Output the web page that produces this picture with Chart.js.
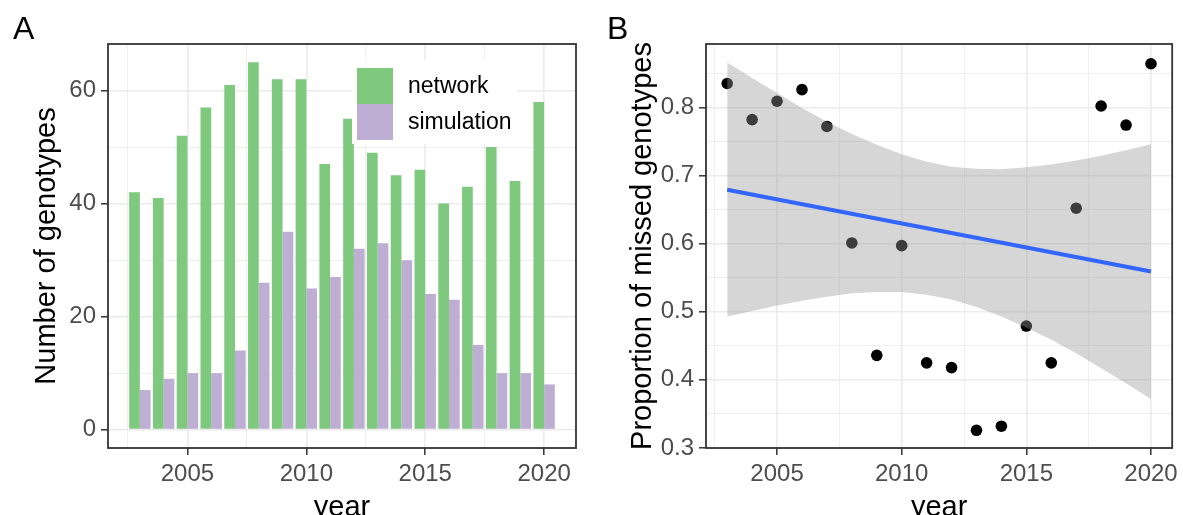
<!DOCTYPE html>
<html>
<head>
<meta charset="utf-8">
<title>Genotypes per year</title>
<script src="https://cdn.jsdelivr.net/npm/chart.js@4.4.1/dist/chart.umd.min.js"></script>
<style>
  html, body { margin: 0; padding: 0; background: #fff; overflow: hidden; }
  #wrap { position: relative; width: 1183px; height: 515px; }
  .panel { position: absolute; top: 0; height: 515px; }
  #panelA { left: 0; width: 592px; }
  #panelB { left: 592px; width: 591px; }
</style>
</head>
<body>
<div id="wrap">
  <div class="panel" id="panelA"><canvas id="chartA"></canvas></div>
  <div class="panel" id="panelB"><canvas id="chartB"></canvas></div>
</div>
<script>
// ------------------------
// data
// ------------------------
const years = [2003, 2004, 2005, 2006, 2007, 2008, 2009, 2010, 2011, 2012, 2013, 2014, 2015, 2016, 2017, 2018, 2019, 2020];
const networkCounts = [42, 41, 52, 57, 61, 65, 62, 62, 47, 55, 49, 45, 46, 40, 43, 50, 44, 58];
const simulationCounts = [7, 9, 10, 10, 14, 26, 35, 25, 27, 32, 33, 30, 24, 23, 15, 10, 10, 8];

const missedProportion = [0.835, 0.782, 0.809, 0.826, 0.772, 0.601, 0.436, 0.597, 0.425, 0.418, 0.326, 0.332, 0.479, 0.425, 0.652, 0.802, 0.774, 0.864];
// linear fit and its confidence band
const fitYears = [2003, 2020];
const fitValues = [0.679, 0.559];
const ciUpper = [0.866, 0.843, 0.821, 0.799, 0.779, 0.761, 0.745, 0.731, 0.720, 0.713, 0.710, 0.709, 0.712, 0.716, 0.722, 0.729, 0.737, 0.746];
const ciLower = [0.493, 0.501, 0.509, 0.516, 0.522, 0.527, 0.529, 0.529, 0.525, 0.518, 0.507, 0.493, 0.477, 0.459, 0.439, 0.417, 0.395, 0.372];

const yearTicks = [2005, 2010, 2015, 2020];
const yearMinorTicks = [2002.5, 2007.5, 2012.5, 2017.5];
const countTicks = [0, 20, 40, 60];
const countMinorTicks = [10, 30, 50];
const propTicks = [0.3, 0.4, 0.5, 0.6, 0.7, 0.8];
const propMinorTicks = [0.35, 0.45, 0.55, 0.65, 0.75, 0.85];

// ------------------------
// look & feel helpers
// ------------------------
const FONT = '"Liberation Sans", Arial, sans-serif';

function ggAxis(major, minor, fmt, extra) {
  const isMajor = v => major.some(m => Math.abs(m - v) < 1e-9);
  return Object.assign({
    offset: false,
    afterBuildTicks: s => {
      s.ticks = major.concat(minor).sort((a, b) => a - b).map(v => ({ value: v }));
    },
    grid: {
      offset: false,
      color: '#EBEBEB',
      lineWidth: c => (c.tick && isMajor(c.tick.value)) ? 1.6 : 0.8,
      tickColor: c => (c.tick && isMajor(c.tick.value)) ? '#333333' : 'rgba(0,0,0,0)',
      tickLength: 7,
      tickWidth: 1.5
    },
    border: { display: false },
    ticks: {
      autoSkip: false,
      maxRotation: 0,
      color: '#4D4D4D',
      padding: 5,
      font: { family: FONT, size: 24 },
      callback: v => isMajor(v) ? fmt(v) : ''
    }
  }, extra);
}

function axisTitle(text, pad) {
  return { display: true, text: text, color: '#000', font: { family: FONT, size: 29, lineHeight: 1 }, padding: pad };
}

// panel letter
const panelTag = {
  id: 'panelTag',
  afterDraw(chart, args, opts) {
    const ctx = chart.ctx;
    ctx.save();
    ctx.fillStyle = '#000';
    ctx.font = '32px ' + FONT;
    ctx.textBaseline = 'alphabetic';
    ctx.fillText(opts.text, opts.x, opts.y);
    ctx.restore();
  }
};

// ggplot style panel border
const panelBorder = {
  id: 'panelBorder',
  afterDraw(chart) {
    const a = chart.chartArea;
    const ctx = chart.ctx;
    ctx.save();
    ctx.strokeStyle = '#333333';
    ctx.lineWidth = 1.8;
    ctx.strokeRect(a.left, a.top, a.right - a.left, a.bottom - a.top);
    ctx.restore();
  }
};

// legend inside panel A
const insideLegend = {
  id: 'insideLegend',
  afterDatasetsDraw(chart) {
    const ctx = chart.ctx;
    ctx.save();
    ctx.fillStyle = '#fff';
    ctx.fillRect(352, 60, 165, 84);
    ctx.font = '23px ' + FONT;
    ctx.textBaseline = 'middle';
    chart.data.datasets.forEach((ds, i) => {
      ctx.fillStyle = ds.backgroundColor;
      ctx.fillRect(357, 68 + i * 36, 36, 36);
      ctx.fillStyle = '#000';
      ctx.fillText(ds.label, 408, 87 + i * 36);
    });
    ctx.restore();
  }
};

// ========================
// A: bars
// ========================
function renderBars() {
  const ctx = document.getElementById('chartA').getContext('2d');
  new Chart(ctx, {
    type: 'bar',
    data: {
      datasets: [
        {
          label: 'network',
          data: years.map((y, i) => ({ x: y, y: networkCounts[i] })),
          backgroundColor: '#7FC97F',
          borderWidth: 0,
          categoryPercentage: 0.9,
          barPercentage: 1.0
        },
        {
          label: 'simulation',
          data: years.map((y, i) => ({ x: y, y: simulationCounts[i] })),
          backgroundColor: '#BEAED4',
          borderWidth: 0,
          categoryPercentage: 0.9,
          barPercentage: 1.0
        }
      ]
    },
    options: {
      responsive: true,
      maintainAspectRatio: false,
      animation: false,
      layout: { padding: { left: 0, right: 16, top: 44, bottom: 0 } },
      plugins: {
        legend: { display: false },
        tooltip: { enabled: false },
        panelTag: { text: 'A', x: 13, y: 39 }
      },
      scales: {
        x: ggAxis(yearTicks, yearMinorTicks, v => String(v), {
          type: 'linear', min: 2001.66, max: 2021.34,
          title: axisTitle('year', { top: 0, bottom: -7 }),
          afterFit: s => { s.height = 67; }
        }),
        y: ggAxis(countTicks, countMinorTicks, v => String(v), {
          type: 'linear', min: -3.25, max: 68.25,
          title: axisTitle('Number of genotypes', { top: 32, bottom: 0 }),
          afterFit: s => { s.width = 108; }
        })
      }
    },
    plugins: [insideLegend, panelBorder, panelTag]
  });
}

// ========================
// B: points + lm fit
// ========================
function renderScatter() {
  const ctx = document.getElementById('chartB').getContext('2d');
  new Chart(ctx, {
    type: 'scatter',
    data: {
      datasets: [
        {
          type: 'scatter',
          label: 'missed',
          data: years.map((y, i) => ({ x: y, y: missedProportion[i] })),
          backgroundColor: '#000',
          borderWidth: 0,
          pointRadius: 5.8,
          order: 3
        },
        {
          type: 'line',
          label: 'ci lower',
          data: years.map((y, i) => ({ x: y, y: ciLower[i] })),
          borderColor: 'rgba(0,0,0,0)',
          borderWidth: 0,
          pointRadius: 0,
          fill: false,
          order: 2
        },
        {
          type: 'line',
          label: 'ci upper',
          data: years.map((y, i) => ({ x: y, y: ciUpper[i] })),
          borderColor: 'rgba(0,0,0,0)',
          borderWidth: 0,
          pointRadius: 0,
          fill: '-1',
          backgroundColor: 'rgba(153,153,153,0.4)',
          order: 2
        },
        {
          type: 'line',
          label: 'fit',
          data: fitYears.map((y, i) => ({ x: y, y: fitValues[i] })),
          borderColor: '#3366FF',
          borderWidth: 4,
          pointRadius: 0,
          fill: false,
          order: 1
        }
      ]
    },
    options: {
      responsive: true,
      maintainAspectRatio: false,
      animation: false,
      layout: { padding: { left: 0, right: 7, top: 44, bottom: 0 } },
      plugins: {
        legend: { display: false },
        tooltip: { enabled: false },
        panelTag: { text: 'B', x: 15, y: 39 }
      },
      scales: {
        x: ggAxis(yearTicks, yearMinorTicks, v => String(v), {
          type: 'linear', min: 2002.15, max: 2020.85,
          title: axisTitle('year', { top: 0, bottom: -7 }),
          afterFit: s => { s.height = 67; }
        }),
        y: ggAxis(propTicks, propMinorTicks, v => v.toFixed(1), {
          type: 'linear', min: 0.3, max: 0.893,
          title: axisTitle('Proportion of missed genotypes', { top: 36, bottom: 0 }),
          afterFit: s => { s.width = 114; }
        })
      }
    },
    plugins: [panelBorder, panelTag]
  });
}

renderBars();
renderScatter();
</script>
</body>
</html>
